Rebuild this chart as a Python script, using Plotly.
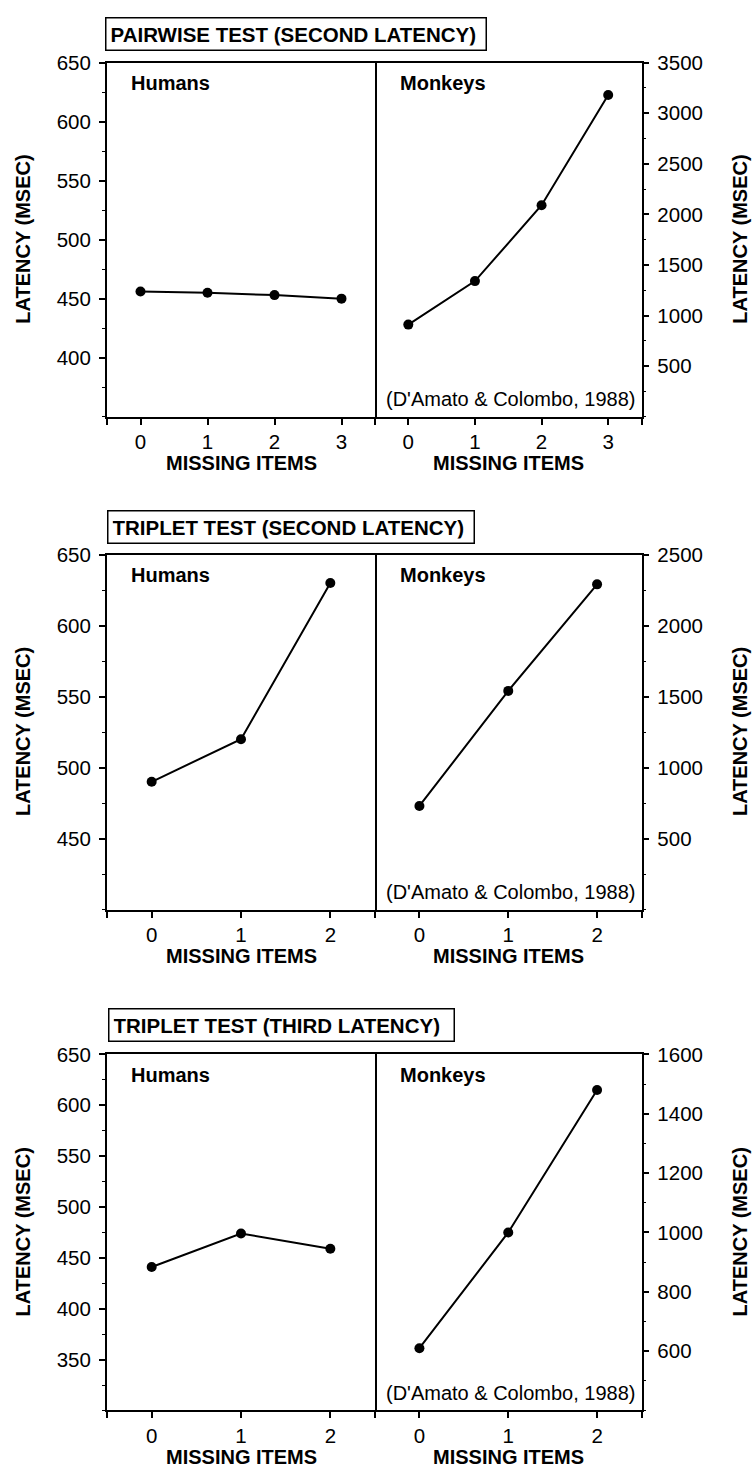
import plotly.graph_objects as go

# ---------------- data ----------------
pairwise_items = [0, 1, 2, 3]
pairwise_humans = [456, 455, 453, 450]
pairwise_monkeys = [910, 1340, 2090, 3180]

triplet_items = [0, 1, 2]
triplet2_humans = [490, 520, 630]
triplet2_monkeys = [730, 1540, 2290]
triplet3_humans = [441, 474, 459]
triplet3_monkeys = [610, 1000, 1480]

panel_titles = ["PAIRWISE TEST (SECOND LATENCY)",
                "TRIPLET TEST (SECOND LATENCY)",
                "TRIPLET TEST (THIRD LATENCY)"]

pairwise_human_ticks = [400, 450, 500, 550, 600, 650]
pairwise_monkey_ticks = [500, 1000, 1500, 2000, 2500, 3000, 3500]
triplet2_human_ticks = [450, 500, 550, 600, 650]
triplet2_monkey_ticks = [500, 1000, 1500, 2000, 2500]
triplet3_human_ticks = [350, 400, 450, 500, 550, 600, 650]
triplet3_monkey_ticks = [600, 800, 1000, 1200, 1400, 1600]

x_title = "MISSING ITEMS"
y_title = "LATENCY (MSEC)"
human_label = "Humans"
monkey_label = "Monkeys"
citation = "(D'Amato & Colombo, 1988)"

# ---------------- layout helpers ----------------
W, H = 752, 1470
FONT = "Liberation Sans, Arial, Helvetica, sans-serif"
FS = 20
TFS = 20.5


def px(x):
    return x / W


def py(y):
    return 1 - y / H


X_LEFT, X_MID, X_RIGHT = 107, 375, 641.5
panels = [
    dict(title=panel_titles[0], items=pairwise_items, hum=pairwise_humans, mon=pairwise_monkeys,
         hrange=[350, 650], hticks=pairwise_human_ticks, hminor=25,
         mrange=[0, 3500], mticks=pairwise_monkey_ticks, mminor=250,
         top=51, bottom=408, box=(105, 480, 22)),
    dict(title=panel_titles[1], items=triplet_items, hum=triplet2_humans, mon=triplet2_monkeys,
         hrange=[400, 650], hticks=triplet2_human_ticks, hminor=25,
         mrange=[0, 2500], mticks=triplet2_monkey_ticks, mminor=250,
         top=547, bottom=905, box=(107, 468, 519)),
    dict(title=panel_titles[2], items=triplet_items, hum=triplet3_humans, mon=triplet3_monkeys,
         hrange=[300, 650], hticks=triplet3_human_ticks, hminor=25,
         mrange=[400, 1600], mticks=triplet3_monkey_ticks, mminor=100,
         top=1051, bottom=1410, box=(108, 448, 1021)),
]

fig = go.Figure()
layout = dict(
    width=W, height=H,
    margin=dict(l=0, r=0, t=0, b=0),
    paper_bgcolor="white", plot_bgcolor="white",
    showlegend=False,
    font=dict(family=FONT, color="black", size=FS),
)
annotations = []

for i, p in enumerate(panels):
    items = p["items"]
    xvals = [items[0] - 0.5] + items + [items[-1] + 0.5]
    xtext = [""] + [str(v) for v in items] + [""]
    ydom = [py(p["bottom"]), py(p["top"])]
    for j, (series, side) in enumerate([(p["hum"], "left"), (p["mon"], "right")]):
        k = 2 * i + j + 1
        xa = "x" if k == 1 else f"x{k}"
        ya = "y" if k == 1 else f"y{k}"
        fig.add_trace(go.Scatter(
            x=items, y=series, xaxis=xa, yaxis=ya, mode="lines+markers",
            line=dict(color="black", width=2),
            marker=dict(color="black", size=10),
            cliponaxis=False, hoverinfo="skip",
        ))
        xdom = [px(X_LEFT), px(X_MID)] if j == 0 else [px(X_MID), px(X_RIGHT)]
        yr = p["hrange"] if j == 0 else p["mrange"]
        yt = p["hticks"] if j == 0 else p["mticks"]
        ym = p["hminor"] if j == 0 else p["mminor"]
        layout["xaxis" if k == 1 else f"xaxis{k}"] = dict(
            domain=xdom, anchor=ya, range=[items[0] - 0.5, items[-1] + 0.5],
            tickmode="array", tickvals=xvals, ticktext=xtext,
            ticks="outside", ticklen=6, tickwidth=1.5, tickcolor="black",
            showline=True, linecolor="black", linewidth=2, mirror=True,
            showgrid=False, zeroline=False, fixedrange=True,
            tickfont=dict(family=FONT, size=TFS, color="black"),
        )
        layout["yaxis" if k == 1 else f"yaxis{k}"] = dict(
            domain=ydom, anchor=xa, side=side, range=yr,
            tickmode="array", tickvals=yt, ticktext=[str(v) for v in yt],
            ticks="outside", ticklen=6, tickwidth=1.5, tickcolor="black",
            minor=dict(ticks="outside", ticklen=3, tickwidth=1, tickcolor="black",
                       dtick=ym, tick0=yr[0], showgrid=False),
            showline=True, linecolor="black", linewidth=2 if j == 0 else 1.5,
            mirror=(j == 0),
            showgrid=False, zeroline=False, fixedrange=True,
            ticklabelstandoff=4,
            tickfont=dict(family=FONT, size=TFS, color="black"),
        )

        # panel labels
        if j == 0:
            annotations.append(dict(
                text=f"<b>{human_label}</b>", xref="paper", yref="paper",
                x=px(X_LEFT + 22), y=py(p["top"] + 21), xanchor="left", yanchor="middle",
                showarrow=False, font=dict(family=FONT, size=FS, color="black")))
        else:
            annotations.append(dict(
                text=f"<b>{monkey_label}</b>", xref="paper", yref="paper",
                x=px(X_MID + 23), y=py(p["top"] + 21), xanchor="left", yanchor="middle",
                showarrow=False, font=dict(family=FONT, size=FS, color="black")))
            annotations.append(dict(
                text=citation, xref="paper", yref="paper",
                x=px(X_RIGHT - 5), y=py(p["bottom"] - 18), xanchor="right", yanchor="middle",
                showarrow=False, font=dict(family=FONT, size=FS, color="black")))
        # x titles
        xc = (X_LEFT + X_MID) / 2 if j == 0 else (X_MID + X_RIGHT) / 2
        annotations.append(dict(
            text=f"<b>{x_title}</b>", xref="paper", yref="paper",
            x=px(xc), y=py(p["bottom"] + 47), xanchor="center", yanchor="middle",
            showarrow=False, font=dict(family=FONT, size=FS, color="black")))

    # y titles
    yc = (p["top"] + p["bottom"]) / 2
    for xpos in (23, 740):
        annotations.append(dict(
            text=f"<b>{y_title}</b>", xref="paper", yref="paper",
            x=px(xpos), y=py(yc), xanchor="center", yanchor="middle", textangle=-90,
            showarrow=False, font=dict(family=FONT, size=FS, color="black")))

    # boxed panel title
    bx0, bx1, byc = p["box"]
    annotations.append(dict(
        text=f"<b>{p['title']}</b>", xref="paper", yref="paper",
        x=px(bx0), y=py(byc), xanchor="left", yanchor="middle",
        width=bx1 - bx0 - 4, align="left",
        showarrow=False, bordercolor="black", borderwidth=1.5, borderpad=4,
        font=dict(family=FONT, size=TFS, color="black")))

layout["annotations"] = annotations
fig.update_layout(**layout)
fig.write_html("out.html")
